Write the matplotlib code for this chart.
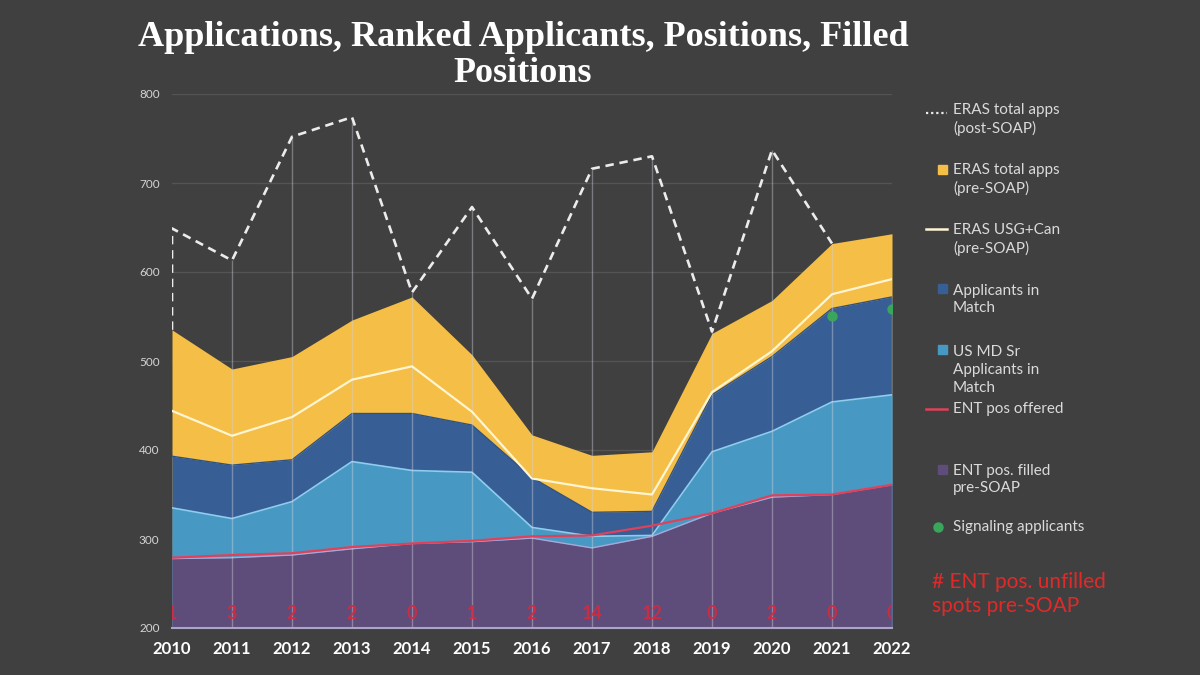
import numpy as np
import matplotlib
matplotlib.use("Agg")
import matplotlib.pyplot as plt
import matplotlib.transforms as mtransforms
from matplotlib.lines import Line2D
from matplotlib.patches import Rectangle

# data
years = list(range(2010, 2023))
eras_post_soap = [649, 613, 752, 774, 577, 673, 570, 716, 730, 533, 737, 632, np.nan]
eras_pre_soap = [535, 491, 505, 546, 572, 507, 417, 394, 398, 531, 568, 632, 643]
usg_can_pre_soap = [444, 416, 437, 479, 494, 443, 368, 357, 350, 465, 511, 575, 592]
applicants_in_match = [393, 383, 389, 441, 441, 428, 369, 330, 331, 462, 505, 559, 572]
us_md_sr_in_match = [335, 323, 342, 387, 377, 375, 313, 303, 304, 398, 421, 454, 462]
ent_pos_offered = [279, 282, 284, 291, 295, 298, 303, 304, 315, 329, 349, 350, 361]
ent_pos_filled = [278, 279, 282, 289, 295, 297, 301, 290, 303, 329, 347, 350, 361]
unfilled_pre_soap = [1, 3, 2, 2, 0, 1, 2, 14, 12, 0, 2, 0, 0]
signal_years = [2021, 2022]
signaling_applicants = [551, 558]

bg = '#404040'
yellow = '#f5be46'
dark_blue = '#375f96'
light_blue = '#4799c3'
purple = '#5e4c7a'
red = '#e0415a'

plt.rcParams['font.family'] = ['Lato', 'DejaVu Sans']

W, H = 1200, 675
fig = plt.figure(figsize=(12, 6.75), dpi=100, facecolor=bg)
ax = fig.add_axes([172 / W, 47 / H, 720 / W, 534 / H])
ax.set_facecolor(bg)

base = 200
# overlapping (not stacked) area series, back to front
ax.fill_between(years, base, eras_pre_soap, color=yellow, lw=0, zorder=1)
ax.fill_between(years, base, applicants_in_match, color=dark_blue, lw=0, zorder=2)
ax.plot(years, applicants_in_match, color='#2f5283', lw=1, zorder=2)
ax.fill_between(years, base, us_md_sr_in_match, color=light_blue, lw=0, zorder=3)
ax.plot(years, us_md_sr_in_match, color='#8fcdee', lw=1.2, zorder=3)
ax.fill_between(years, base, ent_pos_filled, color=purple, lw=0, zorder=4)
ax.plot(years, ent_pos_filled, color='#a9a6d8', lw=1, zorder=4)

# drop lines
tops = np.fmax(np.array(eras_post_soap, dtype=float), np.array(eras_pre_soap, dtype=float))
ax.vlines(years[1:], base, tops[1:], colors='#d4d4e0', alpha=0.4, lw=1, zorder=5)

# post-SOAP outline (dashed, with its left edge)
ax.plot(np.r_[years[0], years], np.r_[eras_pre_soap[0], eras_post_soap],
        color='#ececec', lw=1.9, dashes=(3.2, 2.2), zorder=6)
ax.plot(years, usg_can_pre_soap, color='#fff5d2', lw=1.6, zorder=6)
ax.plot(years, ent_pos_offered, color=red, lw=1.6, zorder=7)
ax.plot(signal_years, signaling_applicants, 'o', color='#3aa65c', ms=7.5, mec='none', zorder=8)

# unfilled counts along the bottom
blend = mtransforms.blended_transform_factory(ax.transData, ax.transAxes)
for yr, n in zip(years, unfilled_pre_soap):
    ax.text(yr, 0.028, str(n), transform=blend, ha='center', va='center',
            color='#d42a40', fontsize=13, fontweight='bold', alpha=0.9,
            clip_on=True, zorder=9)

ax.set_xlim(2010, 2022)
ax.set_ylim(200, 800)
ax.set_xticks(years)
ax.set_yticks(range(200, 801, 100))
ax.tick_params(axis='x', length=0, pad=9, labelsize=12, labelcolor='white')
ax.tick_params(axis='y', length=0, pad=9, labelsize=8.5, labelcolor='#d4d4d4')
for lab in ax.get_xticklabels():
    lab.set_fontweight('bold')
ax.yaxis.grid(True, color='#545454', lw=1)
ax.set_axisbelow(True)
for s in ['top', 'left', 'right']:
    ax.spines[s].set_visible(False)
ax.spines['bottom'].set_color('#aaa4c6')
ax.spines['bottom'].set_linewidth(1.5)
ax.spines['bottom'].set_zorder(6)

# title, two lines as separate texts
title_kw = dict(ha='center', va='center', color='white', fontsize=26,
                fontweight='bold', family='Liberation Serif')
fig.text(523 / W, 1 - 37 / H, 'Applications, Ranked Applicants, Positions, Filled', **title_kw)
fig.text(523 / W, 1 - 74 / H, 'Positions', **title_kw)

# legend drawn by hand in figure pixels
def fx(x):
    return x / W

def fy(y):
    return 1 - y / H

txt = dict(color='#dadada', fontsize=11, va='center', ha='left', linespacing=1.36)
entries = [
    ('ERAS total apps\n(post-SOAP)', 'dots', '#ececec', 109),
    ('ERAS total apps\n(pre-SOAP)', 'box', yellow, 169),
    ('ERAS USG+Can\n(pre-SOAP)', 'line', '#fff5d2', 229),
    ('Applicants in\nMatch', 'box', dark_blue, 289),
    ('US MD Sr\nApplicants in\nMatch', 'box', light_blue, 349),
    ('ENT pos offered', 'line', red, 409),
    ('ENT pos. filled\npre-SOAP', 'box', purple, 469),
    ('Signaling applicants', 'dot', '#3aa65c', 527),
]
for label, kind, col, y in entries:
    nlines = label.count('\n') + 1
    fig.text(fx(953), fy(y + (nlines - 1) * 10.5), label, **txt)
    if kind == 'dots':
        fig.add_artist(Line2D([fx(926), fx(947)], [fy(y + 4), fy(y + 4)], color=col,
                              lw=1.6, linestyle=(0, (1, 1.3))))
    elif kind == 'line':
        fig.add_artist(Line2D([fx(926), fx(947)], [fy(y), fy(y)], color=col, lw=1.8))
    elif kind == 'box':
        fig.add_artist(Rectangle((fx(938), fy(y + 4.5)), 9 / W, 9 / H, color=col))
    else:
        fig.add_artist(Line2D([fx(938)], [fy(y)], marker='o', color=col, ms=7.5, mec='none'))

fig.text(fx(932), fy(594), '# ENT pos. unfilled\nspots pre-SOAP', color='#e02a2a',
         fontsize=15, ha='left', va='center', linespacing=1.3)

fig.savefig('out.png', dpi=100, facecolor=bg)
